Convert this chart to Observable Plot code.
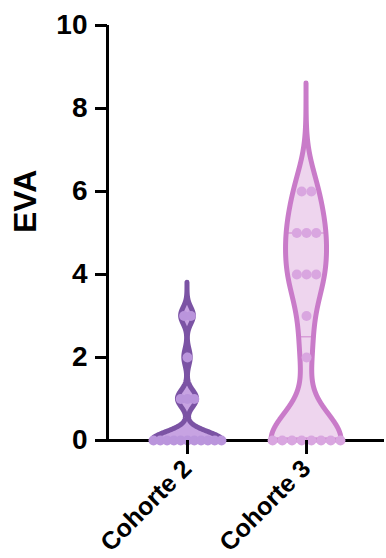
<!DOCTYPE html>
<html><head><meta charset="utf-8">
<script src="https://cdn.jsdelivr.net/npm/d3@7"></script>
<script src="https://cdn.jsdelivr.net/npm/@observablehq/plot@0.6"></script>
<style>body{margin:0;background:#fff}</style>
</head><body><div id="chart"></div>
<script>
const categories = ["Cohorte 2", "Cohorte 3"];
const cohorte2 = [0,0,0,0,0,0,0,0,0,0,0,1,1,1,2,3,3];
const cohorte3 = [0,0,0,0,0,0,0,0,2,3,4,4,4,5,5,5,6,6];
const yTicks = [0,2,4,6,8,10];
const yLabel = "EVA";
const strokeColors = ["#7b53a4", "#c97bc9"];
const fillColors = ["#c7a3e2", "#eed5ee"];
const dotColors = ["#ba95dc", "#d9a6e0"];
const bandwidths = [0.2, 0.65];
const dotSpacingPx = [6.8, 9.7];

const W = 386, H = 558, ML = 107, MR = 2, MT = 25, MB = 118;
const xDomain = [-0.672, 1.655];
const pxPerUnit = (W - ML - MR) / (xDomain[1] - xDomain[0]);
const halfMax = 35 / pxPerUnit;
const series = [cohorte2, cohorte3];

function kde(values, bw) { return y => d3.sum(values, v => Math.exp(-0.5 * ((y - v) / bw) ** 2)); }
function prismQuantile(sorted, p) {
  const n = sorted.length, pos = (n + 1) * p;
  const lo = Math.max(1, Math.floor(pos)), hi = Math.min(n, Math.ceil(pos));
  return sorted[lo - 1] + (pos - lo) * (sorted[hi - 1] - sorted[lo - 1]);
}

const marks = [
  Plot.ruleY([0], {stroke: "#000", strokeWidth: 3}),
  Plot.ruleX([xDomain[0]], {y1: 0, y2: 10, stroke: "#000", strokeWidth: 3})
];

series.forEach((vals, i) => {
  const bw = bandwidths[i];
  const f = kde(vals, bw);
  const top = d3.max(vals) + 4 * bw;
  const ys = d3.range(0, top, 0.01).concat([top]);
  const maxD = d3.max(ys, f);
  const violin = ys.map(y => ({y, w: f(y) / maxD * halfMax}));
  marks.push(Plot.areaX(violin, {
    y: "y", x1: d => i - d.w, x2: d => i + d.w,
    fill: fillColors[i], stroke: strokeColors[i], strokeWidth: 5, strokeLinejoin: "round", curve: "linear"
  }));
  const sorted = vals.slice().sort(d3.ascending);
  const qs = [[0.25, "2,3"], [0.5, "5,3"], [0.75, "2,3"]].map(([p, dash]) => {
    const q = prismQuantile(sorted, p);
    return {y: q, w: f(q) / maxD * halfMax, dash};
  });
  marks.push(Plot.ruleY(qs, {
    y: "y", x1: d => i - d.w, x2: d => i + d.w,
    stroke: strokeColors[i], strokeOpacity: 0.6, strokeWidth: 1.5, strokeDasharray: d => d.dash
  }));
  const dots = [];
  d3.groups(vals, v => v).forEach(([v, arr]) => {
    const n = arr.length, s = dotSpacingPx[i] / pxPerUnit;
    arr.forEach((_, j) => dots.push({y: v, x: i + (j - (n - 1) / 2) * s}));
  });
  marks.push(Plot.dot(dots, {x: "x", y: "y", r: 5, fill: dotColors[i], stroke: null}));
});

marks.push(
  Plot.axisY(yTicks, {tickSize: 12, tickPadding: 8, fontSize: 28, fontWeight: "bold", strokeWidth: 3, label: null}),
  Plot.axisX([0, 1], {tickFormat: i => categories[i], tickRotate: -45, tickSize: 14, tickPadding: 10, fontSize: 25, fontWeight: "bold", strokeWidth: 3, label: null}),
  Plot.text([yLabel], {frameAnchor: "left", rotate: -90, dx: -82, fontSize: 32, fontWeight: "bold", fill: "#000"})
);

const chart = Plot.plot({
  width: W, height: H,
  marginLeft: ML, marginRight: MR, marginTop: MT, marginBottom: MB,
  style: {fontFamily: "'Liberation Sans', Arial, sans-serif", fontWeight: "bold", color: "#000", background: "#fff", overflow: "visible"},
  x: {domain: xDomain, axis: null},
  y: {domain: [0, 10], axis: null},
  marks
});
document.getElementById("chart").appendChild(chart);
</script>
</body></html>
